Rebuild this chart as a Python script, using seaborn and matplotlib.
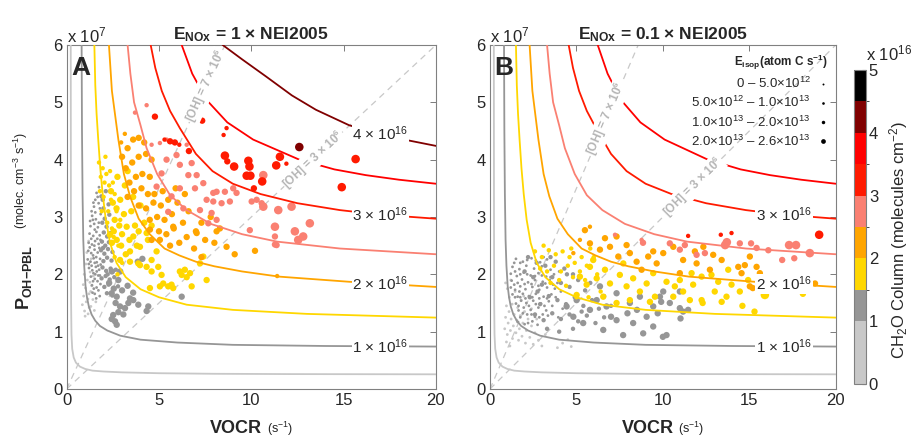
import numpy as np
import pandas as pd
import matplotlib
matplotlib.use("Agg")
import matplotlib.pyplot as plt
import seaborn as sns
from matplotlib.colors import ListedColormap, BoundaryNorm
from matplotlib.cm import ScalarMappable
from matplotlib.lines import Line2D

# colour scale of the CH2O column (x 1e16 molecules cm-2)
CB_BOUNDS = [0, 1, 1.5, 2, 2.5, 3, 3.5, 4, 4.5, 5]
CB_COLORS = ["#c8c8c8", "#969696", "#ffd700", "#ffa500", "#fa8072",
             "#ff1a00", "#ff0000", "#800000", "#000000"]
CB_TICKS = [0, 1, 2, 3, 4, 5]

# CH2O column of each group of points (x 1e16)
LGRAY, GRAY, GOLD, ORANGE, PINK, RED, DKRED = 0.8, 1.25, 1.75, 2.25, 2.75, 3.25, 4.25

# E_isop classes -> marker area
E_SIZES = {0: 4, 1: 10, 2: 21, 3: 38}
E_LEG_MS = [1.4, 1.9, 2.5, 3.4]
E_LABELS = ["0 – 5.0×10$^{12}$",
            "5.0×10$^{12}$ – 1.0×10$^{13}$",
            "1.0×10$^{13}$ – 2.0×10$^{13}$",
            "2.0×10$^{13}$ – 2.6×10$^{13}$"]

# [OH] lines, x 1e6 molec cm-3
OH_LEVELS = [7, 3]

# CH2O column isolines (VOCR in s-1, P_OH in 1e7 molec cm-3 s-1)
C05_X = [0.22, 0.23, 0.24, 0.26, 0.3, 0.38, 0.5, 0.72, 1.0, 1.4, 2.0, 3.0, 5.0, 8.0, 12.0, 20.0]
C05_Y = [6.0, 3.0, 1.5, 0.95, 0.7, 0.55, 0.46, 0.39, 0.35, 0.32, 0.305, 0.29, 0.275, 0.265, 0.26, 0.256]
C10_X = [0.81, 0.83, 0.86, 0.9, 0.95, 1.02, 1.1, 1.2, 1.35, 1.55, 1.8, 2.2, 2.9, 4.0, 6.0, 9.0, 14.0, 20.0]
C10_Y = [6.0, 4.5, 3.4, 2.6, 2.15, 1.8, 1.6, 1.44, 1.3, 1.19, 1.1, 1.02, 0.93, 0.86, 0.81, 0.77, 0.75, 0.74]
C15_X = [1.5, 1.55, 1.62, 1.71, 1.82, 1.95, 2.12, 2.35, 2.7, 3.2, 4.0, 5.0, 6.5, 9.0, 13.0, 20.0]
C15_Y = [6.0, 5.3, 4.8, 4.35, 3.85, 3.4, 2.95, 2.55, 2.2, 1.95, 1.74, 1.6, 1.47, 1.38, 1.31, 1.245]
C20_X = [2.29, 2.45, 2.8, 3.1, 3.43, 3.9, 4.5, 5.3, 6.1, 7.0, 8.0, 9.5, 11.5, 15.3, 20.0]
C20_Y = [6.0, 5.2, 4.35, 3.75, 3.36, 2.97, 2.7, 2.45, 2.33, 2.22, 2.14, 2.05, 1.96, 1.87, 1.78]
C25_X = [3.3, 3.45, 3.65, 4.0, 4.33, 4.9, 5.6, 6.5, 7.8, 9.5, 11.4, 14.8, 20.0]
C25_Y = [6.0, 5.5, 5.0, 4.6, 4.2, 3.75, 3.38, 3.12, 2.88, 2.7, 2.57, 2.45, 2.35]
C30_X = [4.55, 4.8, 5.15, 5.6, 6.13, 7.0, 7.9, 9.0, 10.5, 12.5, 14.8, 17.0, 20.0]
C30_Y = [6.0, 5.6, 5.2, 4.85, 4.55, 4.1, 3.8, 3.58, 3.4, 3.24, 3.12, 3.04, 2.97]
C35_X = [6.23, 6.8, 7.58, 8.7, 10.1, 12.6, 14.5, 16.2, 18.0, 20.0]
C35_Y = [6.0, 5.5, 5.04, 4.65, 4.35, 4.0, 3.83, 3.73, 3.65, 3.58]
C40_X = [8.45, 9.5, 10.8, 12.2, 13.5, 15.3, 17.5, 20.0]
C40_Y = [6.0, 5.75, 5.45, 5.12, 4.87, 4.6, 4.4, 4.24]

CONTOURS_A = [(0.5, C05_X, C05_Y), (1.0, C10_X, C10_Y), (1.5, C15_X, C15_Y),
              (2.0, C20_X, C20_Y), (2.5, C25_X, C25_Y), (3.0, C30_X, C30_Y),
              (3.5, C35_X, C35_Y), (4.0, C40_X, C40_Y)]
CONTOURS_B = CONTOURS_A[:7]
LABELED_A = [1, 2, 3, 4]
LABELED_B = [1, 2, 3]

# ---------- panel A points (VOCR, P_OH) ----------
A_LG0 = [(0.85, 1.47), (0.92, 1.62), (0.97, 1.36), (1.02, 1.76), (1.06, 1.52), (1.12, 1.9),
         (1.16, 1.31), (1.21, 1.66), (1.27, 2.04), (1.31, 1.44), (1.36, 1.8), (1.42, 1.56),
         (1.5, 1.37), (1.58, 1.52), (0.95, 2.0), (1.04, 2.18), (1.15, 1.57), (1.26, 1.86),
         (1.09, 2.38), (1.19, 2.58), (1.33, 2.27), (1.0, 1.27), (1.44, 1.97), (1.22, 1.42),
         (0.9, 1.82), (1.3, 1.7)]
A_GR0 = [(1.62, 3.42), (1.75, 3.52), (1.48, 3.18), (1.73, 3.24), (1.38, 3.02), (1.58, 2.96),
         (1.84, 3.05), (1.29, 2.84), (1.49, 2.88), (1.69, 2.82), (1.24, 2.71), (1.44, 2.67),
         (1.61, 2.74), (1.79, 2.68), (1.19, 2.55), (1.37, 2.52), (1.54, 2.58), (1.73, 2.53),
         (1.17, 2.41), (1.33, 2.37), (1.51, 2.43), (1.68, 2.38), (1.14, 2.26), (1.29, 2.22),
         (1.46, 2.28), (1.63, 2.21), (1.81, 2.27), (1.21, 2.11), (1.39, 2.07), (1.58, 2.13),
         (1.76, 2.08), (1.31, 1.96), (1.52, 1.92), (1.71, 1.98), (1.37, 1.81), (1.62, 1.77),
         (1.83, 1.83), (1.52, 1.66), (1.79, 1.62), (1.55, 3.3), (1.42, 2.95), (1.66, 2.62),
         (1.84, 2.17), (1.55, 2.0), (1.35, 3.1), (1.55, 3.08), (1.8, 3.15), (1.27, 2.93),
         (1.52, 2.78), (1.74, 2.9), (1.33, 2.62), (1.5, 2.5), (1.83, 2.6), (1.25, 2.47),
         (1.43, 2.33), (1.6, 2.3), (1.77, 2.46), (1.2, 2.18), (1.35, 2.15), (1.52, 2.2),
         (1.7, 2.15), (1.45, 2.02), (1.63, 2.05), (1.8, 1.98), (1.43, 1.88), (1.67, 1.88),
         (1.47, 1.75), (1.72, 1.72), (1.6, 1.58), (1.4, 1.68), (1.68, 3.35), (1.45, 3.25)]
A_GR1 = [(1.88, 3.36), (2.12, 3.45), (1.99, 3.15), (2.27, 3.22), (2.06, 2.97), (2.31, 3.04),
         (1.93, 2.9), (2.16, 2.83), (2.01, 2.73), (2.19, 2.66), (2.38, 2.72), (1.91, 2.57),
         (2.09, 2.5), (2.29, 2.56), (1.86, 2.42), (2.04, 2.36), (2.24, 2.44), (2.48, 2.39),
         (1.99, 2.23), (2.19, 2.29), (2.43, 2.24), (1.94, 2.12), (2.14, 2.06), (2.38, 2.1),
         (2.66, 2.08), (1.89, 1.93), (2.11, 1.97), (2.33, 1.91), (2.58, 1.95), (2.04, 1.78),
         (2.27, 1.82), (2.78, 1.79), (2.18, 1.67), (2.47, 1.63), (1.95, 3.3), (1.97, 2.46),
         (2.22, 2.0)]
A_GR2 = [(2.44, 1.67), (2.71, 1.61), (3.43, 1.58), (3.61, 1.55), (2.89, 1.44), (3.16, 1.41),
         (3.88, 1.47), (4.42, 1.44), (2.52, 1.29), (2.44, 1.22), (2.71, 1.12), (6.23, 1.61),
         (3.34, 1.5), (4.33, 1.36), (2.8, 1.34), (2.62, 1.18), (3.07, 1.3), (2.3, 1.85),
         (2.55, 1.75), (2.8, 1.9), (3.0, 1.72), (2.45, 2.05), (2.9, 2.05), (3.3, 1.8),
         (4.1, 2.27), (3.85, 2.22), (2.65, 1.5), (3.6, 1.68)]
A_GD1 = [(1.75, 3.95), (1.85, 3.7), (1.95, 3.85), (2.05, 3.6), (1.8, 3.45), (2.15, 3.75),
         (2.3, 3.55), (2.0, 3.35), (2.4, 3.3), (2.25, 3.1), (2.5, 3.6), (1.9, 3.1),
         (2.6, 3.4), (2.2, 2.9), (2.45, 2.8), (2.7, 3.1), (2.35, 3.8), (2.1, 4.05),
         (2.55, 2.65), (2.8, 2.5), (2.9, 2.95), (2.6, 2.3), (3.0, 2.2), (2.75, 2.0)]
A_GD2 = [(2.34, 2.69), (2.71, 2.6), (3.25, 2.83), (3.61, 2.66), (3.97, 2.48), (4.33, 2.72),
         (4.6, 2.25), (4.87, 2.4), (4.96, 2.13), (5.23, 1.84), (5.5, 1.79), (5.77, 1.76),
         (6.23, 1.99), (6.4, 2.08), (6.68, 2.02), (6.77, 1.79), (7.22, 2.19), (7.4, 2.31),
         (7.58, 1.9), (2.89, 2.25), (2.45, 2.55), (3.88, 2.19), (4.33, 2.13), (3.43, 2.4),
         (4.6, 2.05), (5.14, 1.99), (5.68, 1.82), (6.13, 2.05), (6.5, 1.95), (5.05, 1.79),
         (4.51, 1.76), (3.97, 2.16), (3.43, 2.22), (2.5, 3.25), (2.7, 3.15), (2.9, 3.3),
         (3.1, 3.05), (2.6, 2.95), (2.85, 2.85), (3.5, 3.1), (3.7, 2.85), (3.0, 2.7),
         (3.4, 2.6), (3.9, 2.75), (4.2, 2.9), (3.6, 3.35), (2.4, 3.45), (3.15, 3.55),
         (2.75, 3.7), (3.3, 3.8), (4.0, 3.2), (4.4, 2.6), (3.8, 2.5), (4.6, 2.85),
         (2.55, 2.75), (2.95, 2.5), (3.2, 2.35)]
A_OR1 = [(11.4, 1.97), (2.95, 4.3), (3.15, 4.45)]
A_OR2 = [(3.0, 4.05), (3.3, 4.2), (3.6, 4.35), (3.9, 4.38), (4.2, 4.3), (3.2, 3.85),
         (3.55, 3.95), (3.9, 4.05), (4.3, 4.1), (4.6, 4.0), (3.4, 3.6), (3.75, 3.7),
         (4.1, 3.75), (4.5, 3.7), (3.3, 3.35), (3.65, 3.45), (4.05, 3.5), (4.4, 3.4),
         (4.75, 3.4), (5.2, 3.45), (3.9, 3.2), (4.3, 3.15), (4.7, 3.25), (5.1, 3.2),
         (5.5, 3.3), (4.5, 2.95), (4.9, 3.0), (5.3, 2.95), (5.7, 3.05), (6.0, 3.25),
         (5.0, 2.75), (5.4, 2.7), (5.8, 2.8), (6.3, 2.9), (6.6, 3.1), (5.6, 2.5),
         (6.1, 2.55), (6.5, 2.65), (7.0, 2.75), (7.3, 2.9), (6.9, 2.45), (7.5, 2.6),
         (8.0, 2.55), (8.66, 2.48), (9.1, 2.35), (10.2, 2.41), (7.8, 3.0), (5.9, 3.5),
         (6.4, 3.4), (4.6, 2.6), (7.3, 2.3), (8.3, 2.8), (8.12, 2.75), (7.04, 2.72),
         (5.77, 2.83), (5.05, 2.6), (4.51, 2.78)]
A_PK1 = [(3.7, 4.82), (4.33, 4.95), (5.41, 4.35), (5.05, 4.29), (6.5, 4.26), (4.6, 4.26)]
A_PK2 = [(5.41, 4.0), (6.13, 3.91), (5.95, 4.08), (6.77, 3.94), (7.04, 3.73), (6.59, 3.73),
         (6.95, 3.5), (7.4, 3.59), (7.58, 3.3), (6.13, 3.5), (5.68, 3.36), (6.32, 3.15),
         (7.22, 3.12), (5.14, 3.76), (4.87, 3.53), (5.5, 3.09), (7.67, 2.89), (7.94, 3.42),
         (8.12, 3.44), (8.57, 3.44), (9.02, 3.5), (9.2, 3.42), (7.94, 3.27), (8.39, 3.24),
         (8.84, 3.27), (10.02, 3.27), (10.29, 3.3), (10.56, 3.24), (7.85, 3.07), (8.12, 2.95),
         (9.92, 2.77), (11.37, 2.51), (11.28, 2.66), (11.28, 2.52)]
A_PK3 = [(10.65, 3.73), (11.46, 3.12), (12.18, 3.18), (10.65, 3.18), (11.28, 2.83),
         (12.36, 2.75), (12.54, 2.6), (12.81, 2.66), (13.17, 2.89)]
A_RD1 = [(8.66, 4.55), (8.5, 4.43), (6.1, 4.26), (11.9, 3.93), (5.3, 4.35)]
A_RD2 = [(4.78, 4.75), (7.34, 4.68), (5.86, 4.3), (5.6, 4.32), (6.62, 4.15), (8.7, 3.97),
         (10.14, 3.5)]
A_RD3 = [(8.57, 4.07), (9.07, 3.88), (9.84, 3.98), (9.9, 3.88), (9.75, 3.72), (9.95, 3.72),
         (10.59, 3.62), (11.55, 4.05), (11.35, 3.9), (15.65, 4.01), (14.9, 3.52)]
A_DR3 = [(12.6, 4.22)]

# ---------- panel B points ----------
B_LG0 = [(0.85, 1.05), (0.9, 1.25), (0.95, 1.45), (1.0, 0.95), (1.05, 1.15), (1.1, 1.35),
         (1.12, 1.6), (1.18, 1.02), (1.22, 1.22), (1.28, 1.48), (1.3, 0.88), (1.35, 1.1),
         (1.4, 1.3), (1.45, 1.7), (1.5, 0.98), (1.55, 1.2), (1.6, 1.42), (1.65, 0.85),
         (1.7, 1.05), (1.75, 1.28), (1.8, 1.55), (1.85, 0.92), (1.9, 1.15), (2.0, 1.35),
         (2.05, 0.8), (2.1, 1.02), (2.2, 1.22), (2.3, 0.9), (2.4, 1.1), (2.5, 0.78),
         (2.6, 0.98), (2.8, 0.85), (3.0, 0.75), (1.0, 1.75), (0.9, 1.85), (1.2, 1.9),
         (3.9, 0.72), (4.2, 0.8), (4.5, 0.86), (4.7, 0.74), (1.95, 1.62), (2.4, 1.4),
         (2.7, 1.22), (3.2, 0.95), (0.95, 0.82), (1.15, 0.75)]
B_GR0 = [(1.5, 2.27), (1.9, 2.22), (2.4, 2.28), (2.9, 2.21), (3.3, 2.26),
         (1.3, 2.13), (1.7, 2.09), (2.1, 2.15), (2.55, 2.1), (3.0, 2.14), (3.5, 2.08),
         (1.2, 2.01), (1.55, 1.97), (1.95, 2.03), (2.35, 1.98), (2.8, 2.02), (3.25, 1.96),
         (3.7, 2.0), (1.25, 1.89), (1.6, 1.85), (1.85, 1.91), (2.2, 1.86), (2.6, 1.9),
         (3.05, 1.87), (3.45, 1.9), (3.9, 1.85), (1.2, 1.77), (1.45, 1.73), (1.75, 1.79),
         (2.05, 1.74), (2.45, 1.78), (2.85, 1.73), (3.3, 1.77), (3.75, 1.75), (1.3, 1.65),
         (1.6, 1.61), (1.9, 1.66), (2.25, 1.62), (2.65, 1.66), (3.1, 1.61), (3.55, 1.65),
         (1.5, 1.49), (1.8, 1.54), (2.1, 1.5), (2.5, 1.54), (2.95, 1.49), (3.4, 1.53),
         (1.65, 1.37), (1.95, 1.42), (2.35, 1.38), (2.8, 1.42), (3.25, 1.37),
         (1.75, 1.25), (2.15, 1.3), (2.6, 1.26), (3.05, 1.3), (1.6, 1.17), (2.0, 1.13),
         (2.45, 1.18), (1.4, 2.2), (1.75, 2.2), (2.15, 2.25), (2.65, 2.24), (3.1, 2.3),
         (1.45, 2.05), (1.75, 2.0), (2.15, 2.0), (2.6, 1.97), (3.0, 1.98), (3.5, 1.95),
         (1.4, 1.82), (1.7, 1.7), (2.0, 1.83), (2.4, 1.83), (2.8, 1.8), (3.2, 1.84),
         (3.65, 1.82), (1.45, 1.6), (1.75, 1.6), (2.05, 1.58), (2.45, 1.6), (2.85, 1.58),
         (3.3, 1.58), (3.8, 1.6), (1.65, 1.45), (2.25, 1.45), (2.65, 1.48), (3.15, 1.45),
         (3.6, 1.45), (1.9, 1.32), (2.4, 1.3), (2.85, 1.25), (3.35, 1.28), (2.2, 1.15),
         (2.75, 1.12), (4.1, 1.7), (4.0, 2.05), (4.2, 1.4), (3.95, 1.25)]
B_GR1 = [(2.2, 2.3), (2.7, 2.2), (3.2, 2.15), (3.8, 2.22), (4.3, 2.1), (4.8, 2.0),
         (2.5, 1.95), (3.0, 1.82), (3.6, 1.95), (4.1, 1.85), (4.6, 1.78), (5.1, 1.9),
         (5.5, 1.72), (2.3, 1.6), (2.9, 1.48), (3.4, 1.62), (3.9, 1.55), (4.4, 1.48),
         (4.9, 1.6), (5.4, 1.45), (5.9, 1.55), (6.3, 1.4), (2.6, 1.3), (3.1, 1.2),
         (3.6, 1.32), (4.1, 1.22), (4.6, 1.3), (5.1, 1.18), (5.6, 1.28), (6.1, 1.15),
         (6.6, 1.25), (3.3, 1.05), (4.0, 1.0), (4.8, 1.05), (3.5, 2.3), (2.0, 2.05),
         (5.8, 1.85), (6.6, 1.62), (7.0, 1.45), (2.75, 1.7), (4.45, 2.0), (5.3, 1.35)]
B_GR2 = [(6.17, 1.55), (6.74, 1.44), (7.32, 1.2), (7.7, 0.94), (8.28, 1.15), (9.06, 1.26),
         (9.44, 1.09), (6.55, 1.03), (5.39, 1.15), (4.82, 1.26), (5.78, 1.38), (8.09, 1.5),
         (8.67, 1.61), (7.32, 1.67), (6.36, 1.79), (9.44, 1.44), (9.7, 1.32), (5.01, 1.55),
         (4.43, 1.44), (7.0, 1.26), (7.95, 1.32), (8.5, 1.38), (8.86, 0.97), (10.02, 1.7),
         (10.4, 1.5), (10.98, 1.41), (11.17, 1.35), (11.02, 1.23), (11.46, 1.38), (9.9, 1.52),
         (10.21, 0.94), (10.0, 0.91), (9.83, 1.61), (10.98, 1.7)]
B_GD1 = [(2.6, 2.4), (3.0, 2.3), (3.4, 2.42), (3.8, 2.35), (4.2, 2.4), (4.6, 2.3),
         (2.9, 2.1), (3.3, 2.05), (3.7, 2.15), (4.1, 2.05), (4.5, 2.15), (4.9, 2.2),
         (5.3, 2.3), (3.5, 1.85), (4.0, 1.9), (4.4, 1.8), (4.8, 1.95), (5.2, 2.05),
         (5.6, 2.15), (6.0, 2.3), (5.5, 1.9), (6.2, 2.0), (4.7, 2.45), (5.8, 2.45),
         (3.1, 2.5), (5.0, 1.6), (6.4, 1.7), (5.7, 1.6)]
B_GD2 = [(5.2, 1.96), (5.78, 2.13), (5.59, 1.82), (6.17, 1.93), (6.65, 2.08), (6.94, 1.84),
         (7.51, 1.99), (7.9, 1.79), (8.28, 1.93), (8.67, 1.7), (9.06, 1.84), (9.54, 1.61),
         (7.32, 1.5), (8.09, 1.55), (9.25, 1.52), (9.44, 2.02), (5.01, 1.64), (6.55, 1.61),
         (5.97, 2.25), (7.71, 2.19), (10.21, 1.87), (10.69, 1.79), (11.17, 1.7), (10.98, 1.9),
         (11.75, 1.82), (12.24, 1.96), (12.24, 1.55), (12.3, 1.5), (12.81, 1.99), (13.0, 1.7),
         (13.4, 1.52), (13.68, 1.61), (13.97, 1.82), (14.45, 1.7), (14.6, 1.45), (15.3, 1.35),
         (18.1, 1.66), (14.93, 1.9), (13.78, 2.08), (10.6, 1.61), (11.56, 1.55), (11.66, 2.02),
         (13.2, 1.87)]
B_GD3 = [(15.9, 1.64)]
B_OR1 = [(5.2, 2.6), (4.82, 2.37), (5.78, 2.83)]
B_OR2 = [(5.49, 2.77), (5.78, 2.54), (6.36, 2.43), (6.94, 2.48), (7.42, 2.31), (8.09, 2.37),
         (8.48, 2.22), (9.15, 2.31), (9.64, 2.19), (6.65, 2.63), (7.32, 2.66), (7.9, 2.51),
         (8.77, 2.08), (9.44, 2.4), (10.02, 2.37), (10.6, 2.48), (11.17, 2.25), (11.85, 2.4),
         (11.95, 2.19), (12.91, 2.34), (13.4, 2.25), (14.36, 2.13), (14.74, 2.16), (15.03, 2.31),
         (15.42, 2.13), (15.61, 2.02), (15.03, 1.79), (15.2, 1.76), (14.55, 2.02), (18.8, 1.84),
         (12.72, 2.08), (10.98, 2.02), (12.34, 2.48)]
B_PK1 = [(7.23, 2.69), (8.77, 2.6)]
B_PK2 = [(8.85, 2.55), (10.4, 2.54), (10.98, 2.43), (11.27, 2.51), (15.1, 2.54), (14.45, 2.54),
         (15.42, 2.46), (16.1, 2.42), (16.9, 2.25), (17.6, 2.28), (11.95, 2.34), (12.43, 2.37)]
B_PK3 = [(13.6, 2.51), (13.7, 2.56), (17.3, 2.51), (17.7, 2.51), (18.5, 2.37)]
B_RD1 = [(11.46, 2.67), (13.35, 2.69), (13.97, 2.72)]
B_RD3 = [(19.04, 2.69)]

GROUPS_A = [(A_LG0, LGRAY, 0), (A_GR0, GRAY, 0), (A_GR1, GRAY, 1), (A_GR2, GRAY, 2),
            (A_GD1, GOLD, 1), (A_GD2, GOLD, 2), (A_OR1, ORANGE, 1), (A_OR2, ORANGE, 2),
            (A_PK1, PINK, 1), (A_PK2, PINK, 2), (A_PK3, PINK, 3), (A_RD1, RED, 1),
            (A_RD2, RED, 2), (A_RD3, RED, 3), (A_DR3, DKRED, 3)]
GROUPS_B = [(B_LG0, LGRAY, 0), (B_GR0, GRAY, 0), (B_GR1, GRAY, 1), (B_GR2, GRAY, 2),
            (B_GD1, GOLD, 1), (B_GD2, GOLD, 2), (B_GD3, GOLD, 3), (B_OR1, ORANGE, 1),
            (B_OR2, ORANGE, 2), (B_PK1, PINK, 1), (B_PK2, PINK, 2), (B_PK3, PINK, 3),
            (B_RD1, RED, 1), (B_RD3, RED, 3)]


def frame(groups):
    rows = []
    for pts, hcho, e in groups:
        for x, y in pts:
            rows.append((x, y, hcho, e))
    return pd.DataFrame(rows, columns=["vocr", "poh", "hcho", "eisop"])


sns.set_style("white")
plt.rcParams["font.family"] = ["Liberation Sans", "DejaVu Sans"]
plt.rcParams["mathtext.fontset"] = "custom"
plt.rcParams["mathtext.rm"] = "Liberation Sans"
plt.rcParams["mathtext.it"] = "Liberation Sans:italic"
plt.rcParams["mathtext.bf"] = "Liberation Sans:bold"

cmap = ListedColormap(CB_COLORS)
norm = BoundaryNorm(CB_BOUNDS, cmap.N)
palette = {v: cmap(norm(v)) for v in [LGRAY, GRAY, GOLD, ORANGE, PINK, RED, DKRED]}

fig = plt.figure(figsize=(9.12, 4.38), dpi=100)
axA = fig.add_axes([0.0731, 0.1119, 0.4049, 0.7854])
axB = fig.add_axes([0.5373, 0.1119, 0.3791, 0.7854])
cax = fig.add_axes([0.9364, 0.1233, 0.0132, 0.7169])


def draw_panel(ax, groups, contours, labeled, letter, title, oh_pos):
    df = frame(groups)
    for oh in OH_LEVELS:
        ax.axline((0, 0), slope=oh / 10.0, color="#c8c8c8", lw=0.9,
                  dashes=(5, 4), zorder=1)
    sns.scatterplot(data=df, x="vocr", y="poh", hue="hcho", palette=palette,
                    size="eisop", sizes=E_SIZES, linewidth=0, edgecolor="none",
                    legend=False, ax=ax, zorder=2)
    for lv, cx, cy in contours:
        ax.plot(cx, cy, color=cmap(norm(lv)), lw=1.3, zorder=3)
        if lv in labeled:
            ax.text(17.0, np.interp(17.0, cx, cy), f"{lv:g} × 10$^{{16}}$",
                    fontsize=11, ha="center", va="center", zorder=5,
                    bbox=dict(fc="white", ec="none", pad=0.5))
    for oh, xc in zip(OH_LEVELS, oh_pos):
        ang = np.degrees(np.arctan(oh / 10.0))
        ax.text(xc, xc * oh / 10.0, f"[OH] = {oh} × 10$^{{\\mathbf{{6}}}}$",
                color="#b4b4b4", fontsize=8.5, fontweight="bold",
                rotation=ang, transform_rotates_text=True,
                rotation_mode="anchor", ha="center", va="center", zorder=4,
                bbox=dict(fc="white", ec="none", pad=0.3))
    ax.set_xlim(0, 20)
    ax.set_ylim(0, 6)
    ax.set_xticks([0, 5, 10, 15, 20])
    ax.set_yticks([0, 1, 2, 3, 4, 5, 6])
    ax.set_xlabel("")
    ax.set_ylabel("")
    ax.tick_params(direction="in", top=True, right=True, length=4, width=0.6,
                   color="#666666", labelsize=12, pad=3)
    for sp in ax.spines.values():
        sp.set_color("#808080")
        sp.set_linewidth(0.8)
    ax.set_title(title, fontsize=12.5, fontweight="bold", pad=4)
    ax.text(0.0, 1.0, "x 10$^7$", transform=ax.transAxes, fontsize=12,
            ha="left", va="bottom")
    ax.text(0.013, 0.968, letter, transform=ax.transAxes, fontsize=19,
            fontweight="bold", ha="left", va="top")
    # x label: bold VOCR with small units
    ax.annotate("VOCR", xy=(0.5, 0), xycoords="axes fraction",
                xytext=(8, -31.5), textcoords="offset points",
                fontsize=13, fontweight="bold", ha="right", va="baseline")
    ax.annotate("(s$^{-1}$)", xy=(0.5, 0), xycoords="axes fraction",
                xytext=(11, -31.5), textcoords="offset points",
                fontsize=9, ha="left", va="baseline")


draw_panel(axA, GROUPS_A, CONTOURS_A, LABELED_A, "A",
           r"$\mathbf{E_{NOx}}$ = 1 × NEI2005", [7.55, 13.35])
draw_panel(axB, GROUPS_B, CONTOURS_B, LABELED_B, "B",
           r"$\mathbf{E_{NOx}}$ = 0.1 × NEI2005", [6.74, 11.75])

# y label of panel A
fig.text(24 / 912, 1 - 310 / 438, r"$\mathbf{P_{OH{-}PBL}}$", fontsize=13,
         rotation=90, ha="center", va="bottom")
fig.text(21 / 912, 1 - 229 / 438, r"(molec. cm$^{-3}$ s$^{-1}$)", fontsize=9,
         rotation=90, ha="center", va="bottom")

# E_isop legend
handles = [Line2D([], [], marker="o", ls="", color="k", markersize=ms, markeredgewidth=0)
           for ms in E_LEG_MS]
axB.legend(handles, E_LABELS, title=r"$\mathbf{E_{isop}(atom\ C\ s^{-1})}$",
           loc="upper right", frameon=False, markerfirst=False, fontsize=9.5,
           title_fontsize=8.5, alignment="right", handlelength=0.8,
           handletextpad=0.5, labelspacing=0.3, borderaxespad=0.3, borderpad=0.3)

# colour bar
cb = fig.colorbar(ScalarMappable(norm=norm, cmap=cmap), cax=cax,
                  spacing="proportional", ticks=CB_TICKS)
cb.outline.set_edgecolor("#808080")
cb.outline.set_linewidth(0.8)
cax.tick_params(labelsize=12, direction="in", length=3, color="#666666", pad=2)
cax.set_yticklabels([str(t) for t in CB_TICKS])
fig.text(866 / 912, 1 - 60 / 438, "x 10$^{16}$", fontsize=12, ha="left", va="baseline")
fig.text(899 / 912, 1 - 240 / 438, "CH$_2$O Column (molecules cm$^{-2}$)",
         fontsize=12, rotation=90, ha="center", va="center")

fig.savefig("out.png", dpi=100)
